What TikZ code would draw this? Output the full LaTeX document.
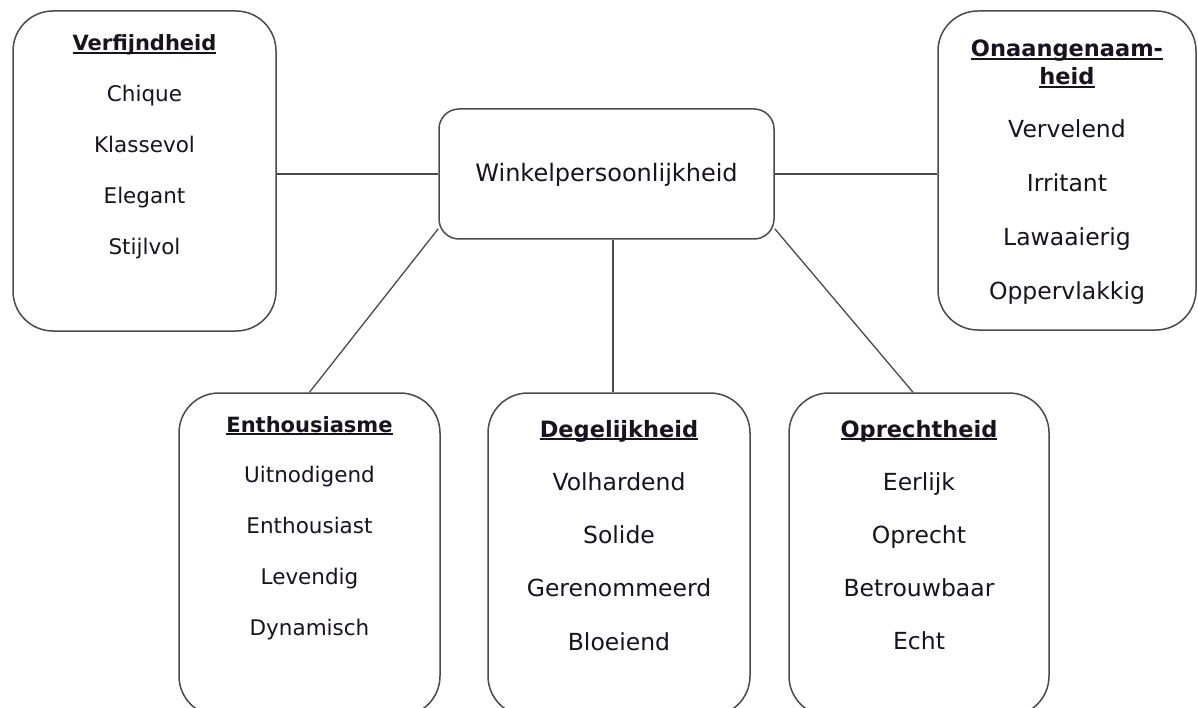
\documentclass[tikz,border=0pt]{standalone}
\usepackage{fontspec}
\setmainfont{DejaVu Sans}
\definecolor{edge}{HTML}{4A4A4A}
\definecolor{ink}{HTML}{17131F}
% bold heading with a solid underline
\newcommand\headword[1]{\setbox0\hbox{\bfseries #1}\rlap{\rule[-2.8pt]{\wd0}{1.7pt}}\box0}
\tikzset{
  card/.style={draw=edge, line width=1.5pt, rounded corners=40pt, fill=white, inner sep=0pt},
  hub/.style={card, rounded corners=20pt},
  link/.style={draw=edge, line width=1.3pt},
  word/.style={text=ink, inner sep=0pt, anchor=base},
  small/.style={word, font=\fontsize{21.5}{26}\selectfont},
  smallhead/.style={word, font=\fontsize{21}{26}\selectfont},
  large/.style={word, font=\fontsize{23.5}{28}\selectfont},
  largehead/.style={word, font=\fontsize{22.5}{27}\selectfont},
}
\begin{document}
\begin{tikzpicture}[x=1pt,y=-1pt]
\clip (0,0) rectangle (1198,708);
\fill[white] (0,0) rectangle (1198,708);

% boxes
\node[hub,  minimum width=335pt, minimum height=130pt] (hubbox) at (606.5,174) {};
\node[card, minimum width=263pt, minimum height=320pt] (verf)  at (144.5,171) {};
\node[card, minimum width=258pt, minimum height=319pt] (onaan) at (1067,170.5) {};
\node[card, minimum width=261pt, minimum height=323pt] (enth)  at (309.5,554.5) {};
\node[card, minimum width=262pt, minimum height=323pt] (degel) at (619,554.5) {};
\node[card, minimum width=260pt, minimum height=323pt] (opr)   at (919,554.5) {};

% connectors
\draw[link] (hubbox.west) -- (hubbox.west -| verf.east);
\draw[link] (hubbox.east) -- (hubbox.east -| onaan.west);
\draw[link] ([yshift=11pt]hubbox.south west) -- (enth.north);
\draw[link] ([xshift=-6pt]degel.north) -- ([xshift=-6pt]degel.north |- hubbox.south);
\draw[link] ([yshift=11pt]hubbox.south east) -- ([xshift=-6pt]opr.north);

% centre
\node[word, font=\fontsize{24}{28}\selectfont] (hubtxt) at (606.5,182) {Winkelpersoonlijkheid};

% Verfijndheid
\node[smallhead, name=verf-h] at (144.5,51) {\headword{Verfijndheid}};
\foreach \w [count=\i] in {Chique,Klassevol,Elegant,Stijlvol}
  \node[small, name=verf-\i] at (144.5,{51+50.8*\i}) {\w};

% Onaangenaamheid
\node[largehead, name=onaan-h1] at (1067,57) {\headword{Onaangenaam-}};
\node[largehead, name=onaan-h2] at (1067,85) {\headword{heid}};
\foreach \w [count=\i] in {Vervelend,Irritant,Lawaaierig,Oppervlakkig}
  \node[large, name=onaan-\i] at (1067,{84+54*\i}) {\w};

% Enthousiasme
\node[smallhead, name=enth-h] at (309.5,432) {\headword{Enthousiasme}};
\foreach \w [count=\i] in {Uitnodigend,Enthousiast,Levendig,Dynamisch}
  \node[small, name=enth-\i] at (309.5,{432+50.8*\i}) {\w};

% Degelijkheid
\node[largehead, name=degel-h] at (619,437) {\headword{Degelijkheid}};
\foreach \w [count=\i] in {Volhardend,Solide,Gerenommeerd,Bloeiend}
  \node[large, name=degel-\i] at (619,{437+53.3*\i}) {\w};

% Oprechtheid
\node[largehead, name=opr-h] at (919,437) {\headword{Oprechtheid}};
\foreach \w [count=\i] in {Eerlijk,Oprecht,Betrouwbaar,Echt}
  \node[large, name=opr-\i] at (919,{437+53.1*\i}) {\w};
\end{tikzpicture}
\end{document}
